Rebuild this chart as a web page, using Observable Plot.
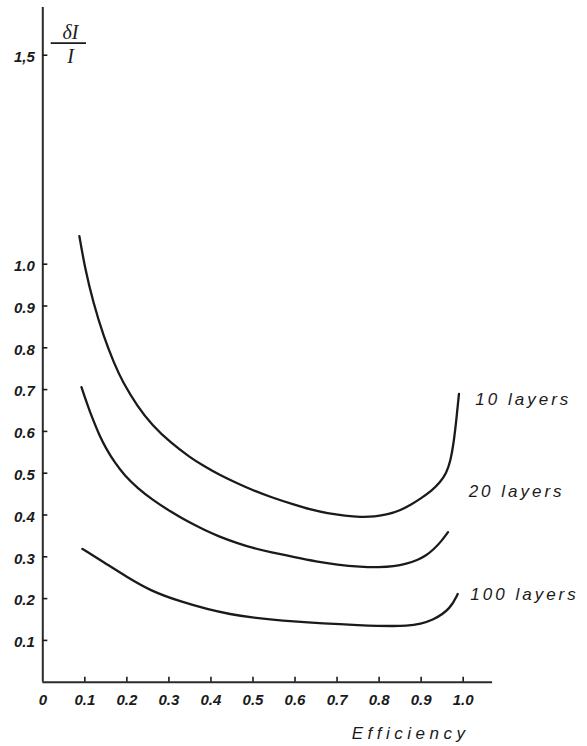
<!DOCTYPE html>
<html>
<head>
<meta charset="utf-8">
<script src="https://cdn.jsdelivr.net/npm/d3@7"></script>
<script src="https://cdn.jsdelivr.net/npm/@observablehq/plot@0.6"></script>
<style>
  html, body { margin: 0; padding: 0; background: #fff; }
  #chart svg { display: block; }
</style>
</head>
<body>
<div id="chart"></div>
<script>
// ---- data ----
const tenX   = [0.087, 0.100, 0.120, 0.145, 0.170, 0.189, 0.225, 0.260, 0.304, 0.350, 0.383, 0.420, 0.462, 0.500, 0.542, 0.600, 0.637, 0.677, 0.720, 0.755, 0.790, 0.820, 0.850, 0.875, 0.900, 0.925, 0.945, 0.960, 0.970, 0.977, 0.983, 0.990];
const tenY   = [1.067, 0.992, 0.908, 0.826, 0.762, 0.720, 0.660, 0.615, 0.573, 0.538, 0.517, 0.496, 0.476, 0.459, 0.443, 0.424, 0.413, 0.404, 0.398, 0.395, 0.396, 0.401, 0.411, 0.424, 0.440, 0.458, 0.478, 0.500, 0.530, 0.570, 0.620, 0.690];
const twentyX = [0.092, 0.105, 0.120, 0.135, 0.150, 0.170, 0.195, 0.225, 0.260, 0.304, 0.345, 0.383, 0.420, 0.462, 0.500, 0.542, 0.600, 0.650, 0.700, 0.756, 0.800, 0.835, 0.865, 0.891, 0.912, 0.930, 0.948, 0.964];
const twentyY = [0.706, 0.667, 0.626, 0.590, 0.560, 0.527, 0.494, 0.465, 0.437, 0.408, 0.384, 0.365, 0.348, 0.333, 0.321, 0.311, 0.299, 0.289, 0.281, 0.276, 0.275, 0.277, 0.283, 0.292, 0.303, 0.318, 0.337, 0.359];
const hundredX = [0.094, 0.145, 0.201, 0.256, 0.320, 0.439, 0.597, 0.756, 0.875, 0.930, 0.970, 0.987];
const hundredY = [0.319, 0.287, 0.251, 0.219, 0.195, 0.160, 0.144, 0.136, 0.132, 0.148, 0.176, 0.211];

const seriesNames = ["10 layers", "20 layers", "100 layers"];
const labelX = [1.029, 1.013, 1.017];
const labelY = [0.676, 0.456, 0.210];

const xTicks = [0, 0.1, 0.2, 0.3, 0.4, 0.5, 0.6, 0.7, 0.8, 0.9, 1.0];
const xTickLabels = ["0", "0.1", "0.2", "0.3", "0.4", "0.5", "0.6", "0.7", "0.8", "0.9", "1.0"];
const yTicks = [0.1, 0.2, 0.3, 0.4, 0.5, 0.6, 0.7, 0.8, 0.9, 1.0, 1.5];
const yTickLabels = ["0.1", "0.2", "0.3", "0.4", "0.5", "0.6", "0.7", "0.8", "0.9", "1.0", "1,5"];

const xAxisEnd = 1.07;
const yAxisEnd = 1.614;
const xTitle = "Efficiency";
const yTitleTop = "δI";
const yTitleBottom = "I";

// ---- build ----
const series = [
  {name: seriesNames[0], xs: tenX, ys: tenY},
  {name: seriesNames[1], xs: twentyX, ys: twentyY},
  {name: seriesNames[2], xs: hundredX, ys: hundredY}
];
const rows = series.flatMap(s => s.xs.map((x, i) => ({series: s.name, x, y: s.ys[i]})));
const labels = seriesNames.map((n, i) => ({name: n, x: labelX[i], y: labelY[i]}));
const nonZeroX = xTicks.filter(d => d > 0);

const ink = "#1a1a1a";
const font = "'Liberation Sans', Arial, sans-serif";
const serif = "'Liberation Serif', 'DejaVu Serif', serif";

const chart = Plot.plot({
  width: 587,
  height: 746,
  marginLeft: 42.3,
  marginRight: 94.9,
  marginTop: 7.05,
  marginBottom: 64.3,
  x: {domain: [0, xAxisEnd]},
  y: {domain: [0, yAxisEnd]},
  style: {fontFamily: font, fontStyle: "italic", fontWeight: "bold", color: ink, background: "#fff"},
  marks: [
    // axis lines
    Plot.ruleX([0], {y1: 0, y2: yAxisEnd, stroke: "#2a2a2a", strokeWidth: 2}),
    Plot.ruleY([0], {x1: 0, x2: xAxisEnd, stroke: "#2a2a2a", strokeWidth: 2}),
    // inward ticks
    Plot.ruleY(yTicks, {x1: 0, x2: 0.012, stroke: ink, strokeWidth: 1.6}),
    Plot.ruleX(nonZeroX, {y1: 0, y2: 0.012, stroke: ink, strokeWidth: 1.6}),
    // tick labels
    Plot.axisX({ticks: xTicks, tickSize: 0, tickPadding: 12, fontSize: 15, tickFormat: d => xTickLabels[xTicks.indexOf(d)], label: null}),
    Plot.axisY({ticks: yTicks, tickSize: 0, tickPadding: 8, dy: 2, fontSize: 15, tickFormat: d => yTickLabels[yTicks.indexOf(d)], label: null}),
    // curves
    Plot.line(rows, {x: "x", y: "y", z: "series", stroke: ink, strokeWidth: 2.3, curve: "basis"}),
    // series labels
    Plot.text(labels, {x: "x", y: "y", text: "name", textAnchor: "start", fontSize: 17, fontWeight: "normal", fill: ink}),
    // axis titles
    Plot.text([xTitle], {x: 0.875, y: -0.123, text: d => d, fontSize: 17, fontWeight: "normal", fill: ink}),
    Plot.text([yTitleTop], {x: 0.066, y: 1.553, text: d => d, fontSize: 20, fontWeight: "normal", fill: ink, fontFamily: serif}),
    Plot.ruleY([1.529], {x1: 0.02, x2: 0.104, stroke: ink, strokeWidth: 1.6}),
    Plot.text([yTitleBottom], {x: 0.066, y: 1.497, text: d => d, fontSize: 20, fontWeight: "normal", fill: ink, fontFamily: serif})
  ]
});
document.getElementById("chart").appendChild(chart);
// letter spacing to mimic the wide technical lettering
chart.querySelectorAll("text").forEach(t => {
  const s = t.textContent;
  if (seriesNames.includes(s)) t.setAttribute("letter-spacing", "3");
  else if (s === xTitle) t.setAttribute("letter-spacing", "4.5");
});
</script>
</body>
</html>
